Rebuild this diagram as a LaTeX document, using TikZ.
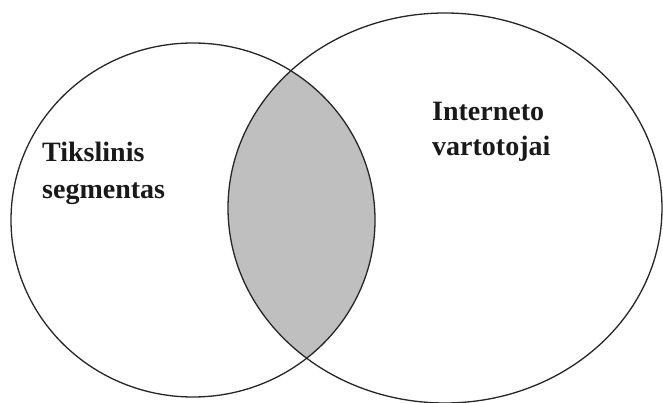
\documentclass[tikz,border=0pt]{standalone}
\usepackage{fontspec}
\setmainfont{Liberation Serif}
\begin{document}
\begin{tikzpicture}[x=1pt,y=-1pt,
  setline/.style={draw=black!85,line width=1.3pt},
  label/.style={anchor=base west,inner sep=0pt,font=\fontsize{28}{34}\selectfont\bfseries,text=black!90}]
\useasboundingbox (0,0) rectangle (663,403);
% shaded overlap of the two sets
\begin{scope}
  \clip (193,220) ellipse [x radius=182pt, y radius=177pt];
  \fill[black!25] (445,208) ellipse [x radius=217pt, y radius=195pt];
\end{scope}
% set outlines
\draw[setline] (193,220) ellipse [x radius=182pt, y radius=177pt];
\draw[setline] (445,208) ellipse [x radius=217pt, y radius=195pt];
% labels
\node[label] (t1) at (42,162) {Tikslinis};
\node[label] (t2) at (42,199) {segmentas};
\node[label] (i1) at (432,121) {Interneto};
\node[label] (i2) at (432,156) {vartotojai};
\end{tikzpicture}
\end{document}
